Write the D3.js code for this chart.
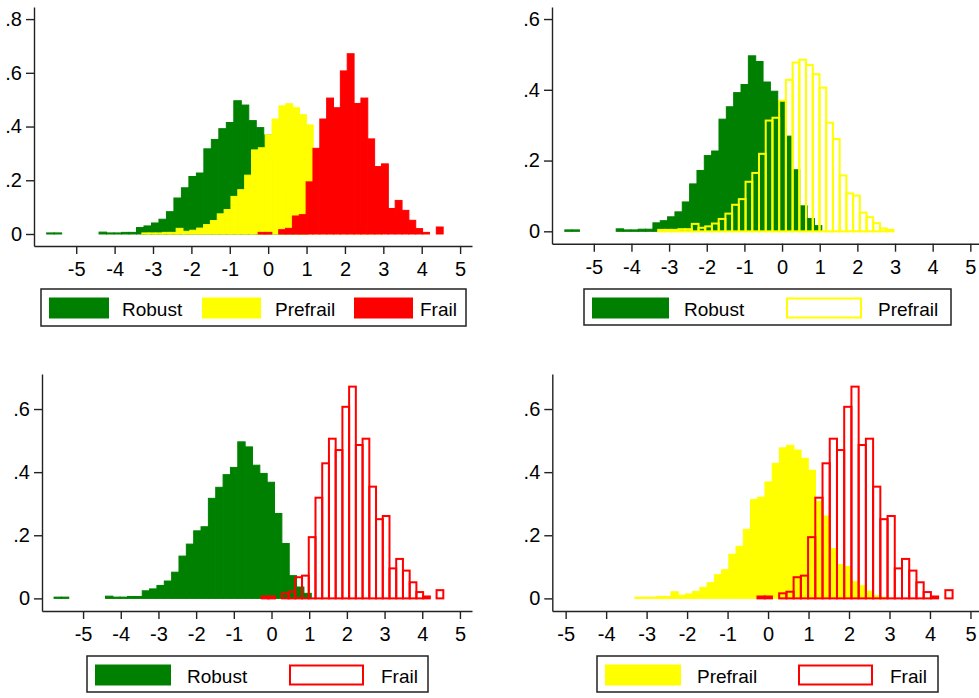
<!DOCTYPE html>
<html>
<head>
<meta charset="utf-8">
<script src="https://cdnjs.cloudflare.com/ajax/libs/d3/7.8.5/d3.min.js"></script>
<style>
  body { margin: 0; background: #fff; }
  svg { display: block; font-family: "Liberation Sans", Arial, sans-serif; }
</style>
</head>
<body>
<svg id="chart" width="979" height="698"></svg>
<script>
// density per bin, bins start at *Start and are *Width wide
var robustStart = -5.77, robustWidth = 0.195;
var robust = [0.004, 0.004, 0, 0, 0, 0, 0, 0.007, 0.004, 0.004, 0.006, 0.006,
  0.024, 0.030, 0.041, 0.055, 0.083, 0.134, 0.172, 0.214, 0.227, 0.317, 0.352,
  0.392, 0.415, 0.496, 0.480, 0.422, 0.396, 0.368, 0.269, 0.174, 0.072, 0.036, 0.016];

var prefrailStart = -3.29, prefrailWidth = 0.1785;
var prefrail = [0.004, 0.004, 0.004, 0.006, 0.006, 0.021, 0.010, 0.014, 0.022,
  0.035, 0.050, 0.075, 0.091, 0.140, 0.165, 0.219, 0.313, 0.321, 0.369, 0.428,
  0.477, 0.485, 0.470, 0.444, 0.406, 0.307, 0.261, 0.158, 0.107, 0.101, 0.053,
  0.040, 0.023, 0.008, 0.004];

var frailStart = -0.261, frailWidth = 0.1785;
var frail = [0.006, 0.006, 0, 0.016, 0.021, 0.067, 0.072, 0.194, 0.319, 0.428,
  0.506, 0.470, 0.607, 0.671, 0.486, 0.506, 0.354, 0.251, 0.261, 0.095, 0.125,
  0.088, 0.051, 0.020, 0.006, 0, 0.026];

var xTicks = [-5, -4, -3, -2, -1, 0, 1, 2, 3, 4, 5];
var yTicksFirst = [0, 0.2, 0.4, 0.6, 0.8];
var yTicksOther = [0, 0.2, 0.4, 0.6];

var groups = {
  Robust:   { start: robustStart,   width: robustWidth,   values: robust,   color: "#008000" },
  Prefrail: { start: prefrailStart, width: prefrailWidth, values: prefrail, color: "#ffff00" },
  Frail:    { start: frailStart,    width: frailWidth,    values: frail,    color: "#ff0000" }
};

// layout of the four graphs (pixels)
var panels = [
  { left: 34, right: 472, top: 7, bottom: 246, xd: [-6.10, 5.31], yd: [-0.0447, 0.845], yTicks: yTicksFirst,
    layers: [["Robust", "fill"], ["Prefrail", "fill"], ["Frail", "fill"]],
    legend: { x: 41, y: 289, w: 425, h: 37, items: [[49, 60, 122], [202, 59, 275], [354, 59, 420]] } },
  { left: 552, right: 982, top: 7, bottom: 243.7, xd: [-6.11, 5.31], yd: [-0.035, 0.634], yTicks: yTicksOther,
    layers: [["Robust", "fill"], ["Prefrail", "outline"]],
    legend: { x: 584, y: 289, w: 367, h: 36, items: [[592, 77, 684], [786, 76, 878]] } },
  { left: 42, right: 472, top: 374, bottom: 611, xd: [-6.09, 5.32], yd: [-0.040, 0.711], yTicks: yTicksOther,
    layers: [["Robust", "fill"], ["Frail", "outline"]],
    legend: { x: 87, y: 656, w: 341, h: 36, items: [[95, 76, 187], [289, 75, 381]] } },
  { left: 552.3, right: 983, top: 374, bottom: 611, xd: [-5.33, 5.31], yd: [-0.040, 0.711], yTicks: yTicksOther,
    layers: [["Prefrail", "fill"], ["Frail", "outline"]],
    legend: { x: 597, y: 656, w: 341, h: 36, items: [[605, 76, 697], [798, 75, 890]] } }
];

var svg = d3.select("#chart");

function drawPanel(p)
{
  var x = d3.scaleLinear().domain(p.xd).range([p.left, p.right]);
  var y = d3.scaleLinear().domain(p.yd).range([p.bottom, p.top]);
  var g = svg.append("g");

  p.layers.forEach(function(layer) {
    var grp = groups[layer[0]];
    var bins = grp.values.map(function(v, i) {
      return { x0: grp.start + i * grp.width, x1: grp.start + (i + 1) * grp.width, v: v };
    }).filter(function(d) { return d.v > 0; });

    var rects = g.append("g").selectAll("rect")
      .data(bins)
      .enter()
      .append("rect")
        .attr("x", function(d) { return x(d.x0); })
        .attr("width", function(d) { return x(d.x1) - x(d.x0); })
        .attr("y", function(d) { return y(d.v); })
        .attr("height", function(d) { return y(0) - y(d.v); });

    if (layer[1] == "fill") {
      rects.style("fill", grp.color).style("stroke", grp.color).style("stroke-width", "1");
    } else {
      rects.style("fill", "none").style("stroke", grp.color).style("stroke-width", "2");
    }
  });

  // axes
  var xAxis = d3.axisBottom(x)
    .tickValues(xTicks)
    .tickSize(8)
    .tickSizeOuter(0)
    .tickPadding(8)
    .tickFormat(function(d) { return String(d); });

  var yAxis = d3.axisLeft(y)
    .tickValues(p.yTicks)
    .tickSize(8)
    .tickSizeOuter(0)
    .tickPadding(4)
    .tickFormat(function(d) { return d === 0 ? "0" : String(d).replace("0.", "."); });

  var ax = g.append("g")
    .attr("transform", "translate(0," + p.bottom + ")")
    .call(xAxis);

  var ay = g.append("g")
    .attr("transform", "translate(" + p.left + ",0)")
    .call(yAxis);

  [ax, ay].forEach(function(a) {
    a.attr("font-family", null).attr("font-size", null);
    a.selectAll("path, line").style("stroke", "#222").style("stroke-width", "1.4");
    a.selectAll("text").style("fill", "#000").style("font-size", "20px");
  });

  // legend
  var L = p.legend;
  g.append("rect")
    .attr("x", L.x)
    .attr("y", L.y)
    .attr("width", L.w)
    .attr("height", L.h)
    .style("fill", "white")
    .style("stroke", "#222")
    .style("stroke-width", "1.5");

  p.layers.forEach(function(layer, i) {
    var grp = groups[layer[0]];
    var it = L.items[i];
    var sw = g.append("rect")
      .attr("x", it[0])
      .attr("y", L.y + 8.5)
      .attr("width", it[1])
      .attr("height", 21);
    if (layer[1] == "fill") {
      sw.style("fill", grp.color);
    } else {
      sw.attr("x", it[0] + 1).attr("y", L.y + 9.5).attr("width", it[1] - 2).attr("height", 19)
        .style("fill", "white").style("stroke", grp.color).style("stroke-width", "2");
    }
    g.append("text")
      .attr("x", it[2])
      .attr("y", L.y + 27)
      .style("font-size", "19px")
      .style("fill", "#000")
      .text(layer[0]);
  });
}

panels.forEach(drawPanel);
</script>
</body>
</html>
